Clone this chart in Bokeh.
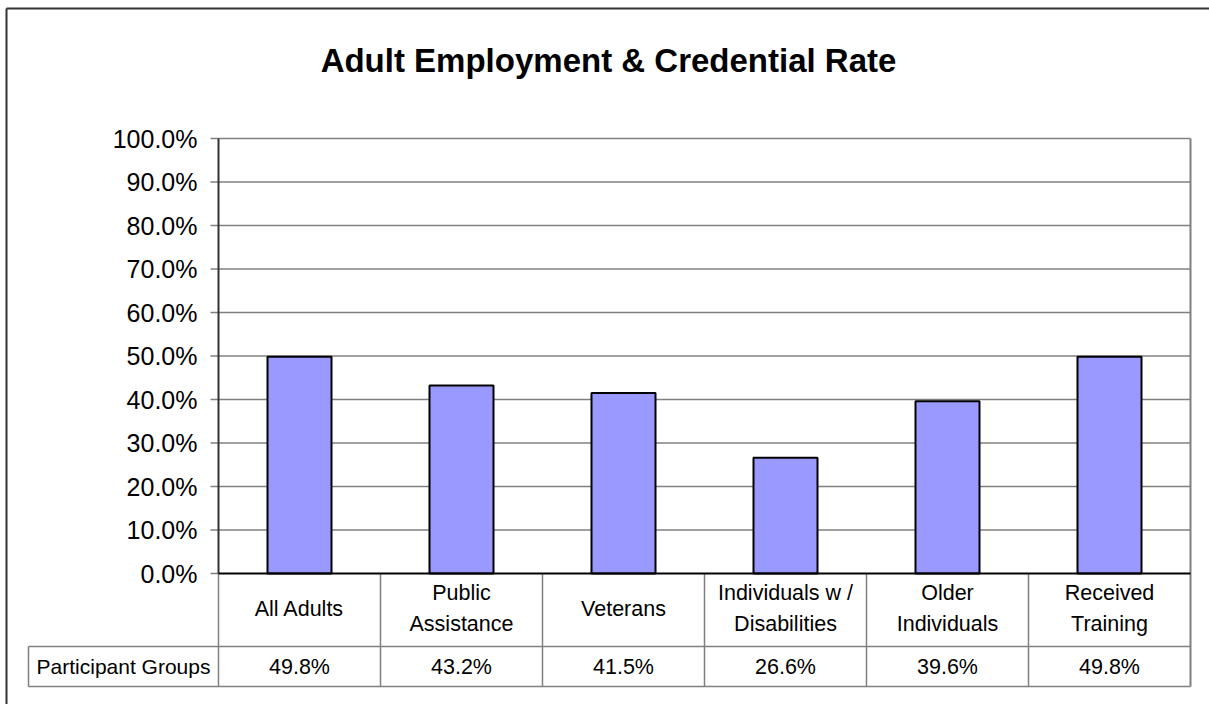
from bokeh.plotting import figure
from bokeh.models import Range1d, ColumnDataSource
from bokeh.core.properties import value
from bokeh.embed import file_html
from bokeh.resources import INLINE

# ---- data ----
categories = ["All Adults", "Public\nAssistance", "Veterans",
              "Individuals w /\nDisabilities", "Older\nIndividuals", "Received\nTraining"]
rates = [49.8, 43.2, 41.5, 26.6, 39.6, 49.8]
y_ticks = [0, 10, 20, 30, 40, 50, 60, 70, 80, 90, 100]
y_tick_labels = ["0.0%", "10.0%", "20.0%", "30.0%", "40.0%", "50.0%",
                 "60.0%", "70.0%", "80.0%", "90.0%", "100.0%"]
title_text = "Adult Employment & Credential Rate"
row_label = "Participant Groups"

# ---- layout (pixels) ----
W, H = 1209, 704
X0, X1 = 218, 1190          # plot area left/right
Y0, Y100 = 573, 138          # pixel of 0% and 100%
n = len(categories)
cw = (X1 - X0) / n
ppu = (Y0 - Y100) / 100.0


def dx(px):
    return (px - X0) / cw


def dy(py):
    return (Y0 - py) / ppu


FONT = value("Liberation Sans")

p = figure(width=W, height=H,
           x_range=Range1d(dx(0), dx(W)), y_range=Range1d(dy(H), dy(0)),
           output_backend="svg", toolbar_location=None,
           x_axis_location=None, y_axis_location=None,
           min_border=0, outline_line_color=None,
           background_fill_color="white", border_fill_color="white")
p.grid.visible = False

# outer chart border (left and top)
p.segment(x0=[dx(6), dx(6)], y0=[dy(8), dy(8)], x1=[dx(6), dx(W + 5)], y1=[dy(H + 5), dy(8)],
          line_color="#333333", line_width=2)

# gridlines
grid_vals = [t for t in y_ticks if t > 0]
p.segment(x0=[0] * len(grid_vals), x1=[n] * len(grid_vals), y0=grid_vals, y1=grid_vals,
          line_color="#808080", line_width=1.5)

# right border of plot area + table
p.segment(x0=[n], x1=[n], y0=[y_ticks[-1]], y1=[dy(686)], line_color="#808080", line_width=2)

# tick marks
p.segment(x0=[dx(210)] * len(y_ticks), x1=[0] * len(y_ticks), y0=y_ticks, y1=y_ticks,
          line_color="#808080", line_width=1.5)

# tick labels
p.text(x=[dx(197)] * len(y_ticks), y=y_ticks, text=y_tick_labels,
       text_align="right", text_baseline="middle", text_font=FONT,
       text_font_size="25px", text_color="black")

# bars
centers = [i + 0.5 for i in range(n)]
src = ColumnDataSource(dict(x=centers, top=rates, cat=categories,
                            lab=[f"{r:.1f}%" for r in rates]))
p.vbar(x="x", top="top", width=64 / cw, bottom=0, source=src,
       fill_color="#9999FF", line_color="black", line_width=2)

# table lines
p.segment(x0=[dx(28), dx(28)], x1=[n, n], y0=[dy(646), dy(686)], y1=[dy(646), dy(686)],
          line_color="#808080", line_width=1.5)
bounds = list(range(1, n))
p.segment(x0=bounds, x1=bounds, y0=[0] * len(bounds), y1=[dy(686)] * len(bounds),
          line_color="#808080", line_width=1.5)
p.segment(x0=[dx(28)], x1=[dx(28)], y0=[dy(646)], y1=[dy(686)],
          line_color="#808080", line_width=1.5)

# axis line and zero line
p.segment(x0=[0], x1=[0], y0=[y_ticks[-1]], y1=[0], line_color="#333333", line_width=2)
p.segment(x0=[0], x1=[0], y0=[0], y1=[dy(686)], line_color="#808080", line_width=1.5)
p.segment(x0=[0], x1=[n], y0=[0], y1=[0], line_color="black", line_width=2)

# category labels and values
p.text(x="x", y=dy(608), text="cat", source=src, text_align="center",
       text_baseline="middle", text_font=FONT, text_font_size="21.5px",
       text_line_height=1.33, text_color="black")
p.text(x="x", y=dy(666), text="lab", source=src, text_align="center",
       text_baseline="middle", text_font=FONT, text_font_size="21.5px", text_color="black")
p.text(x=[dx(123)], y=[dy(666)], text=[row_label], text_align="center",
       text_baseline="middle", text_font=FONT, text_font_size="21px", text_color="black")

# title
p.text(x=[dx(608)], y=[dy(60)], text=[title_text], text_align="center",
       text_baseline="middle", text_font=FONT, text_font_size="33px",
       text_font_style="bold", text_color="black")

open("out.html", "w").write(file_html(p, INLINE))
